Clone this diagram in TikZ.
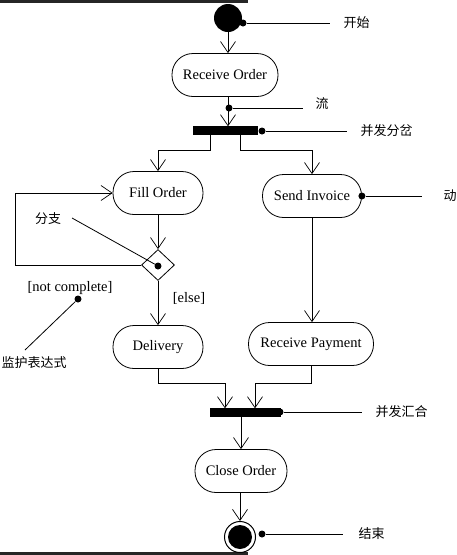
\documentclass[tikz,border=0pt]{standalone}
\usepackage{fontspec}
\setmainfont{Liberation Serif}
\newfontfamily\cjk{Noto Sans CJK SC}
\usetikzlibrary{arrows.meta,shapes.geometric}
\begin{document}
\begin{tikzpicture}[x=1pt,y=-1pt,
 act/.style={rectangle, rounded corners=21pt, draw, line width=0.8pt, minimum height=43pt, inner sep=0pt, font=\fontsize{14.5}{16}\selectfont},
 bar/.style={fill=black, draw=black, inner sep=0pt, minimum height=8pt},
 flow/.style={draw, line width=0.7pt, -{Straight Barb[length=11pt,width=15pt,line width=0.7pt]}},
 note/.style={line width=0.8pt},
 dot/.style={circle, fill=black, inner sep=0pt, minimum size=7pt},
 lbl/.style={font=\cjk\fontsize{13}{15}\selectfont, anchor=west},
 guard/.style={font=\fontsize{14.5}{16}\selectfont}]
\useasboundingbox (0,0) rectangle (457,555);
\fill[black!85] (0,0) rectangle (248,2.5);
\fill[black!85] (0,552) rectangle (248,555);

% activity nodes
\node[circle, fill=black, minimum size=28pt, inner sep=0pt] (start) at (228,18) {};
\node[act, minimum width=106pt] (recv) at (225,75) {Receive Order};
\node[bar, minimum width=64pt] (fork) at (225,130.5) {};
\node[act, minimum width=90pt] (fill) at (158,193) {Fill Order};
\node[act, minimum width=99pt] (send) at (312,196) {Send Invoice};
\node[diamond, draw, line width=0.8pt, minimum width=33pt, minimum height=31pt, inner sep=0pt] (dec) at (158,265) {};
\node[act, minimum width=90pt] (deliv) at (158,347) {Delivery};
\node[act, minimum width=125pt] (pay) at (311,344) {Receive Payment};
\node[bar, minimum width=70pt] (join) at (245,412.5) {};
\node[act, minimum width=92pt] (close) at (241,471) {Close Order};
\node[circle, draw, line width=1pt, minimum size=31pt, inner sep=0pt] (end) at (240,537) {};
\node[circle, fill=black, minimum size=24pt, inner sep=0pt] (endin) at (end.center) {};

% helper coordinates
\coordinate (fkL) at (210,134.5);
\coordinate (fkR) at (240,134.5);
\coordinate (loopc) at (15,265);
\coordinate (jL) at (225,383);
\coordinate (jR) at (255,383);

% flows
\draw[flow] (start.south) -- (start.south |- recv.north);
\draw[flow] (recv.south -| start) -- (fork.north -| start);
\draw[flow] (fkL) -- ++(0,16) -| (fill.north);
\draw[flow] (fkR) -- ++(0,16) -| (send.north);
\draw[flow] (fill.south) -- (dec.north);
\draw[flow] (dec.west) -- (loopc) |- (fill.west);
\draw[flow] (dec.south) -- (deliv.north);
\draw[flow] (send.south) -- (send.south |- pay.north);
\draw[flow] (deliv.south) |- (jL) -- (jL |- join.north);
\draw[flow] (pay.south) |- (jR) -- (jR |- join.north);
\draw[flow] (join.south -| close) -- (close.north);
\draw[flow] (close.south -| end) -- (end.north);

% guards
\node[guard] (else) at (189,298) {[else]};
\node[guard] (notc) at (70,288) {[not complete]};

% annotations
\node[dot] (d1) at (243,23) {};
\node[lbl] (t1) at (340,23) {开始};
\draw[note] (d1) -- (330,23);

\node[dot] (d2) at (229,108) {};
\node[lbl] (t2) at (312,104) {流};
\draw[note] (d2) -- (303,108);

\node[dot] (d3) at (262,131) {};
\node[lbl] (t3) at (357,131) {并发分岔};
\draw[note] (d3) -- (347,131);

\node[dot] (d4) at (send.east) {};
\node[lbl] (t4) at (440,196) {动};
\draw[note] (d4) -- (422,196);

\node[dot] (d5) at (158,266) {};
\node[font=\cjk\fontsize{13}{15}\selectfont] (t5) at (48,219) {分支};
\draw[note] (72,218) -- (d5);

\node[dot] (d6) at (78,299) {};
\node[lbl] (t6) at (-2,363) {监护表达式};
\draw[note] (d6) -- (25,350);

\node[dot] (d7) at (280,412) {};
\node[lbl] (t7) at (372,412) {并发汇合};
\draw[note] (d7) -- (362,412);

\node[dot] (d8) at (262,534) {};
\node[lbl] (t8) at (355,534) {结束};
\draw[note] (d8) -- (343,534);
\end{tikzpicture}
\end{document}
